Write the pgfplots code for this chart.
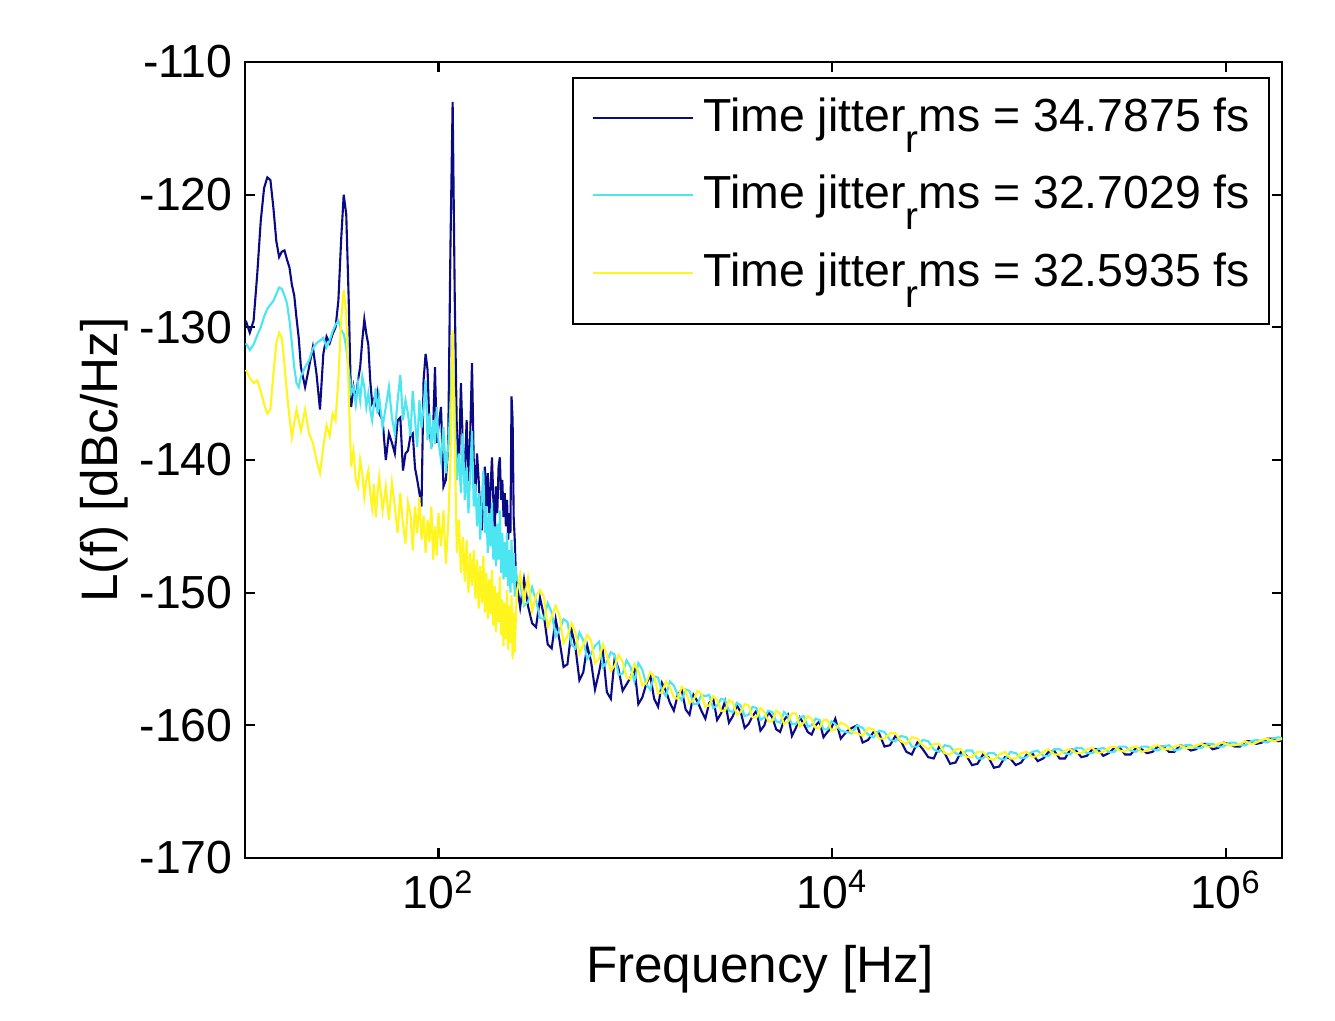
\documentclass[border=0pt]{standalone}
\usepackage{fontspec}
\setmainfont{Liberation Sans}
\usepackage{pgfplots}
\usepackage{pgfplotstable}
\pgfplotsset{compat=1.18}
\definecolor{cblue}{rgb}{0.04,0.04,0.52}
\definecolor{ccyan}{rgb}{0.30,0.90,0.95}
\definecolor{cyel}{rgb}{1,0.96,0.12}
\pgfplotstableread{
F B C Y
10.5 -129.5 -131.2 -133.2
11 -130.4 -131.7 -133.8
11.5 -129.5 -131.3 -134.2
12 -126.0 -130.6 -134.0
12.5 -122.0 -130.0 -134.8
13 -119.5 -129.2 -135.8
13.5 -118.7 -128.6 -136.5
14 -118.9 -128.3 -136.2
14.5 -121.0 -128.0 -133.5
15 -123.5 -127.5 -131.2
15.5 -124.7 -127.0 -130.4
16 -124.3 -127.1 -130.8
16.5 -124.2 -127.6 -132.8
17 -124.9 -128.2 -135.0
17.5 -125.5 -129.5 -136.8
18 -126.8 -131.2 -138.3
18.5 -127.6 -133.0 -137.2
19 -129.3 -134.2 -136.2
19.5 -130.8 -134.5 -137.0
20 -133.0 -133.7 -137.8
21 -134.5 -133.0 -136.2
22 -133.0 -132.5 -138.0
23 -131.5 -131.6 -138.7
24 -133.5 -131.2 -140.0
25 -136.2 -131.0 -141.0
26 -132.0 -130.8 -139.0
27 -130.7 -131.5 -137.4
28 -131.2 -131.0 -138.2
29 -130.5 -130.3 -136.5
30 -130.0 -129.8 -137.0
31 -128.0 -129.5 -134.0
32 -123.5 -130.2 -129.5
33 -120.0 -130.5 -127.2
34 -121.5 -131.5 -129.0
35 -128.0 -133.2 -135.0
36 -136.0 -135.0 -140.5
37 -134.5 -134.5 -139.3
38 -135.5 -135.8 -141.5
39 -134.0 -134.2 -142.0
40 -133.0 -135.5 -140.0
41 -131.0 -133.7 -141.0
42 -129.4 -134.5 -142.8
43 -130.5 -136.0 -141.5
44 -131.3 -135.0 -140.8
45 -134.0 -136.2 -142.5
46 -135.7 -137.0 -143.6
47 -135.4 -135.8 -141.8
48 -135.8 -134.6 -144.3
49 -135.0 -136.5 -142.5
50 -136.5 -135.3 -141.3
52 -137.0 -137.5 -143.8
54 -140.0 -136.0 -142.0
56 -138.0 -134.5 -144.5
58 -138.7 -136.8 -141.7
60 -139.5 -138.0 -143.5
62 -137.0 -135.5 -145.5
64 -136.8 -133.6 -142.5
66 -140.8 -137.0 -144.8
68 -139.5 -135.5 -146.3
70 -139.3 -136.5 -143.2
72 -138.2 -138.2 -144.0
74 -138.0 -134.8 -146.8
76 -140.6 -137.0 -143.5
78 -141.5 -139.0 -145.5
80 -142.5 -135.5 -142.8
82 -143.5 -137.6 -146.0
84 -134.0 -136.0 -144.2
86 -132.0 -134.0 -147.0
88 -133.2 -138.5 -144.5
90 -137.6 -136.5 -146.2
92 -139.0 -139.2 -143.5
94 -137.5 -137.0 -147.5
96 -133.0 -138.8 -145.0
98 -138.7 -136.0 -147.2
100 -137.5 -138.6 -144.0
103 -136.0 -140.0 -146.5
106 -142.0 -137.5 -143.8
109 -141.5 -141.0 -147.8
112 -139.0 -139.0 -145.0
115 -124.0 -136.0 -140.0
118 -113.0 -130.5 -130.2
121 -128.0 -137.0 -139.0
124 -138.0 -141.5 -147.0
127 -140.5 -139.5 -144.5
130 -134.2 -142.5 -148.5
133 -139.0 -138.0 -145.8
136 -141.0 -143.0 -149.2
139 -137.0 -140.5 -146.0
142 -141.6 -144.0 -150.0
145 -138.0 -141.0 -147.0
148 -132.7 -137.8 -149.5
151 -140.0 -143.5 -146.8
154 -142.5 -141.8 -150.5
157 -139.5 -145.0 -147.5
160 -141.5 -142.5 -151.2
163 -144.0 -146.0 -148.0
166 -145.3 -143.0 -150.8
169 -143.0 -140.8 -147.2
172 -140.5 -145.5 -151.5
175 -143.5 -143.5 -148.5
178 -141.0 -147.0 -152.0
181 -144.5 -144.0 -149.0
184 -142.0 -146.5 -151.6
187 -139.8 -143.2 -148.3
190 -143.0 -147.5 -152.5
193 -145.5 -145.0 -149.5
196 -142.0 -148.0 -153.0
199 -144.0 -144.8 -150.0
202 -140.5 -147.5 -152.2
205 -139.8 -143.8 -148.8
208 -143.0 -148.5 -153.2
211 -141.5 -145.5 -150.5
214 -144.3 -149.0 -154.0
217 -142.5 -146.2 -150.8
220 -145.0 -148.8 -153.5
223 -143.0 -145.5 -149.8
226 -146.0 -149.5 -154.3
229 -144.0 -146.8 -151.0
232 -145.5 -150.0 -153.8
235 -135.2 -146.0 -150.2
238 -137.0 -149.3 -155.0
241 -144.3 -147.0 -151.5
244 -146.0 -150.3 -154.5
247 -148.5 -148.0 -152.0
250 -149.3 -149.0 -150.0
260 -151.1 -149.3 -148.6
272 -149.0 -151.0 -150.6
285 -151.0 -150.7 -148.9
299 -152.3 -149.6 -151.4
313 -152.6 -150.6 -150.2
328 -150.4 -151.9 -149.8
343 -151.7 -152.0 -150.3
359 -153.9 -150.8 -152.6
376 -154.2 -151.5 -151.8
394 -152.0 -153.3 -151.0
412 -153.6 -152.8 -151.7
432 -155.6 -152.0 -153.8
452 -155.4 -152.2 -153.3
474 -152.8 -153.9 -152.3
496 -154.1 -154.2 -153.0
520 -156.6 -153.0 -154.6
544 -156.0 -153.6 -153.9
570 -154.0 -155.0 -153.2
596 -155.2 -154.6 -153.6
624 -157.3 -154.0 -155.3
654 -156.0 -153.7 -155.0
685 -154.5 -155.6 -153.9
717 -157.5 -155.2 -154.7
751 -158.0 -154.5 -155.9
786 -154.9 -154.7 -155.5
823 -155.8 -156.2 -154.7
862 -157.4 -156.1 -155.2
903 -156.9 -155.1 -156.4
945 -156.4 -155.6 -156.5
989 -155.6 -156.7 -155.4
1036 -158.4 -155.3 -155.9
1085 -157.9 -155.8 -157.0
1136 -156.9 -156.9 -156.8
1190 -156.2 -157.3 -156.0
1246 -158.0 -156.3 -156.3
1305 -158.6 -156.4 -157.6
1366 -156.8 -157.4 -157.5
1431 -157.4 -157.8 -156.7
1498 -158.3 -156.7 -157.1
1569 -158.9 -157.0 -157.9
1643 -157.7 -157.7 -158.0
1720 -157.3 -158.1 -157.1
1801 -158.8 -157.3 -157.4
1886 -159.2 -157.4 -158.3
1975 -157.7 -158.4 -158.1
2068 -158.2 -158.4 -157.4
2166 -158.9 -157.7 -157.6
2268 -159.5 -157.8 -158.6
2375 -158.3 -157.7 -158.5
2487 -158.0 -158.7 -157.8
2604 -159.6 -158.5 -158.1
2727 -159.1 -158.0 -158.9
2855 -158.2 -158.1 -158.9
2990 -159.8 -158.9 -158.1
3131 -159.3 -159.0 -158.3
3279 -158.5 -158.3 -159.2
3433 -159.0 -158.5 -159.0
3595 -160.2 -159.3 -158.4
3764 -159.9 -159.2 -158.5
3941 -159.3 -158.6 -159.4
4127 -158.9 -158.7 -159.4
4322 -160.4 -159.6 -158.7
4526 -160.0 -159.4 -159.0
4740 -159.0 -158.9 -159.7
4963 -159.4 -159.0 -159.7
5197 -160.3 -159.7 -158.9
5442 -160.5 -159.8 -159.1
5699 -159.6 -159.0 -159.9
5967 -159.2 -159.3 -159.7
6249 -160.8 -159.9 -159.1
6543 -160.2 -159.9 -159.1
6852 -159.4 -159.4 -160.1
7175 -159.9 -159.3 -159.8
7513 -160.5 -160.1 -159.3
7867 -160.7 -160.0 -159.5
8238 -160.0 -159.5 -160.2
8627 -159.7 -159.6 -160.2
9034 -160.9 -160.3 -159.6
9460 -160.5 -160.3 -159.6
9906 -160.2 -159.7 -160.4
10373 -159.5 -159.9 -160.3
11060 -161.0 -160.4 -159.8
11790 -160.5 -160.5 -160.0
12570 -160.2 -160.6 -160.5
13400 -160.0 -160.0 -160.6
14290 -161.3 -160.2 -160.8
15230 -161.1 -160.7 -160.2
16240 -160.5 -160.9 -160.3
17310 -160.6 -160.4 -161.0
18450 -161.6 -160.5 -161.0
19670 -161.5 -161.1 -160.6
20970 -160.8 -161.2 -160.6
22350 -161.2 -160.8 -161.2
23830 -162.0 -160.9 -161.4
25400 -162.2 -161.6 -160.9
27080 -161.3 -161.6 -161.0
28870 -161.8 -161.1 -161.5
30780 -162.4 -161.2 -161.8
32810 -162.5 -161.8 -161.4
34980 -161.6 -162.0 -161.4
37290 -162.1 -161.5 -162.1
39750 -162.9 -161.6 -162.2
42380 -162.8 -162.1 -161.8
45180 -162.0 -162.3 -161.8
48170 -162.3 -161.9 -162.4
51350 -163.0 -161.9 -162.4
54740 -162.9 -162.5 -162.0
58360 -162.2 -162.5 -162.0
62220 -162.4 -162.1 -162.5
66330 -163.2 -162.1 -162.6
70710 -163.1 -162.5 -162.2
75390 -162.4 -162.6 -162.0
80370 -162.5 -162.0 -162.5
85680 -163.0 -162.1 -162.5
91340 -162.8 -162.5 -162.1
97370 -162.2 -162.4 -162.0
103800 -162.1 -162.0 -162.4
110700 -162.7 -161.9 -162.3
118000 -162.5 -162.3 -162.0
125800 -162.0 -162.3 -161.8
134100 -161.9 -161.8 -162.2
143000 -162.5 -161.8 -162.2
152400 -162.5 -162.1 -161.9
162500 -161.8 -162.2 -161.8
173200 -161.9 -161.7 -162.1
184600 -162.4 -161.7 -162.1
196800 -162.3 -162.1 -161.8
209800 -161.8 -162.1 -161.7
223700 -161.8 -161.8 -162.1
238500 -162.3 -161.7 -162.0
254200 -162.1 -162.0 -161.7
271000 -161.7 -162.0 -161.6
288900 -161.7 -161.6 -161.9
308000 -162.2 -161.6 -162.0
328400 -162.2 -161.9 -161.7
350100 -161.7 -162.0 -161.6
373200 -161.8 -161.6 -162.0
397800 -162.1 -161.6 -161.9
424100 -162.0 -161.8 -161.6
452100 -161.6 -161.9 -161.5
482000 -161.6 -161.6 -161.8
513800 -162.0 -161.5 -161.8
547800 -162.0 -161.9 -161.6
584000 -161.5 -161.8 -161.5
622600 -161.6 -161.5 -161.7
663700 -161.9 -161.5 -161.7
707600 -161.8 -161.7 -161.5
754400 -161.4 -161.7 -161.4
804200 -161.4 -161.4 -161.6
857400 -161.8 -161.4 -161.6
914000 -161.7 -161.6 -161.4
974400 -161.3 -161.6 -161.3
1038800 -161.4 -161.3 -161.5
1107400 -161.6 -161.3 -161.5
1180600 -161.6 -161.5 -161.4
1258600 -161.2 -161.5 -161.2
1341800 -161.2 -161.2 -161.4
1430400 -161.4 -161.1 -161.3
1525000 -161.3 -161.2 -161.1
1625700 -161.0 -161.3 -161.0
1733100 -161.0 -161.0 -161.2
1847600 -161.2 -160.9 -161.1
1969700 -161.1 -161.0 -161.0
}\data
\begin{document}
\begin{tikzpicture}
\path[use as bounding box] (-2.45cm,-1.62cm) rectangle (10.90cm,8.58cm);
\begin{axis}[
  at={(0,0)}, anchor=south west,
  scale only axis, width=10.37cm, height=7.96cm,
  xmode=log, xmin=10.4, xmax=1.93e6, ymin=-170, ymax=-110,
  xtick={100,10000,1000000},
  xticklabels={10\textsuperscript{2},10\textsuperscript{4},10\textsuperscript{6}},
  xminorticks=false,
  ytick={-170,-160,-150,-140,-130,-120,-110},
  yticklabels={-170,-160,-150,-140,-130,-120,-110},
  tick align=inside, major tick length=0.1cm,
  tick style={black, line width=0.6pt},
  axis line style={line width=0.6pt},
  ticklabel style={font=\fontsize{13.2}{15}\selectfont},
  xlabel={Frequency [Hz]}, ylabel={L(f) [dBc/Hz]},
  every axis x label/.style={at={(axis description cs:0.4966,-0.157)}, anchor=base, font=\fontsize{14.6}{17}\selectfont},
  every axis y label/.style={at={(axis description cs:-0.1225,0.5)}, rotate=90, anchor=base, font=\fontsize{14.6}{17}\selectfont},
  legend cell align=left,
  legend image code/.code={\draw[#1, line width=0.6pt] (0cm,0.06cm) -- (1.0cm,0.06cm); \path (1.1cm,0cm);},
  legend style={at={(axis description cs:0.9884,0.981)}, anchor=north east,
    draw=black, line width=0.6pt, fill=white,
    font=\fontsize{13.2}{15}\selectfont,
    inner xsep=0.19cm, inner ysep=0.18cm, row sep=0.225cm,
    nodes={inner sep=0pt, text height=0.35cm, text depth=0.2cm}},
  every axis plot/.append style={line width=0.6pt},
]
\addplot[cblue] table[x=F, y=B] {\data};
\addlegendentry{Time jitter\raisebox{-6pt}{\fontsize{11}{11}\selectfont r}ms = 34.7875 fs}
\addplot[ccyan] table[x=F, y=C] {\data};
\addlegendentry{Time jitter\raisebox{-6pt}{\fontsize{11}{11}\selectfont r}ms = 32.7029 fs}
\addplot[cyel] table[x=F, y=Y] {\data};
\addlegendentry{Time jitter\raisebox{-6pt}{\fontsize{11}{11}\selectfont r}ms = 32.5935 fs}
\end{axis}
\end{tikzpicture}
\end{document}
